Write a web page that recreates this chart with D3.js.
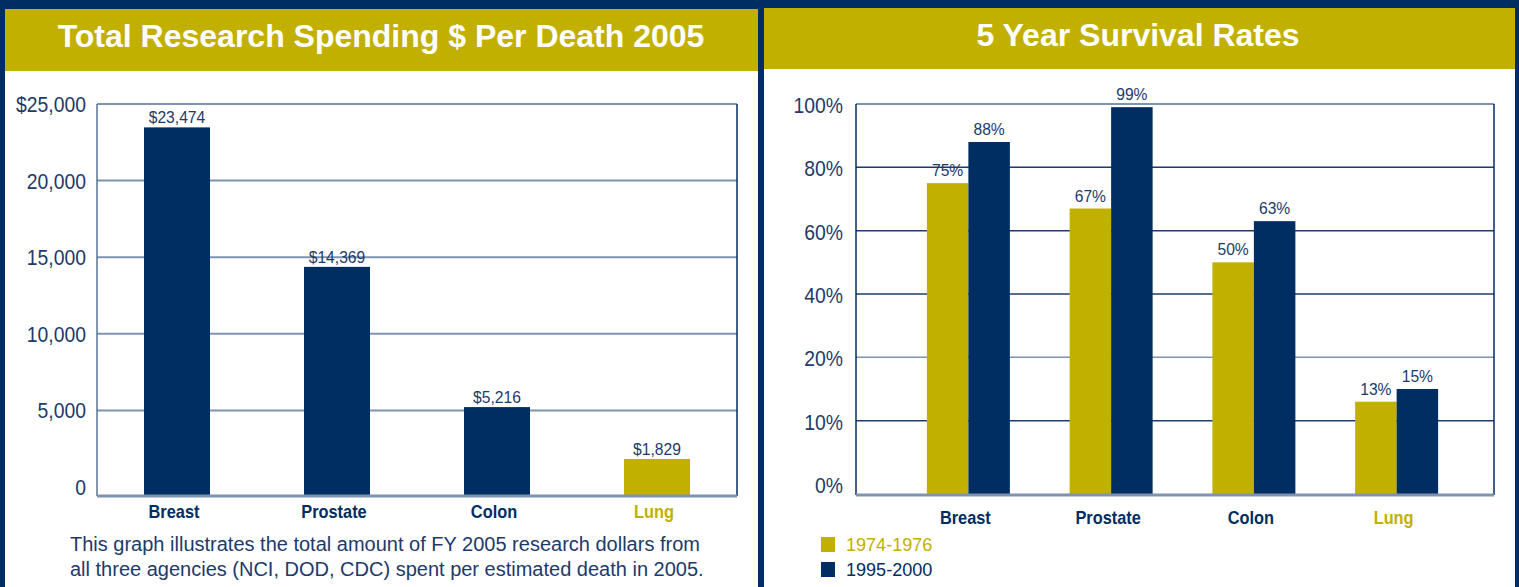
<!DOCTYPE html>
<html>
<head>
<meta charset="utf-8">
<script src="https://cdn.jsdelivr.net/npm/d3@7"></script>
<style>
  html, body { margin: 0; padding: 0; background: #002d62; }
  svg { display: block; }
  text { font-family: "Liberation Sans", Arial, sans-serif; }
</style>
</head>
<body>
<svg id="chart" width="1519" height="587"></svg>
<script>
// ---- data ----
const spendCategories = ["Breast", "Prostate", "Colon", "Lung"];
const spendValues = [23474, 14369, 5216, 1829];
const spendTicks = [0, 5000, 10000, 15000, 20000, 25000];

const survivalCategories = ["Breast", "Prostate", "Colon", "Lung"];
const survivalSeries = ["1974-1976", "1995-2000"];
const survival1974 = [75, 67, 50, 13];
const survival1995 = [88, 99, 63, 15];
const survivalTicks = [0, 10, 20, 40, 60, 80, 100];

const NAVY = "#002d62";
const GOLD = "#c2b000";
const TEXT = "#1d3a6a";
const GRID = "#7f93b0";

const svg = d3.select("#chart");

// no narrow face installed, so squeeze the measured text instead
function condense(sel, k) {
    sel.each(function() {
        const len = this.getComputedTextLength();
        d3.select(this).attr("textLength", len * k).attr("lengthAdjust", "spacingAndGlyphs");
    });
}

// background panels
function panel(x0, x1, headY0, headY1, title, titleX) {
    svg.append("rect").attr("x", x0).attr("y", headY1).attr("width", x1 - x0).attr("height", 587 - headY1).attr("fill", "#fff");
    svg.append("rect").attr("x", x0).attr("y", headY0).attr("width", x1 - x0).attr("height", headY1 - headY0).attr("fill", GOLD);
    svg.append("text")
        .attr("x", titleX).attr("y", headY0 + 38)
        .attr("text-anchor", "middle")
        .attr("fill", "#fff")
        .attr("font-weight", "bold")
        .attr("font-size", 32)
        .text(title);
}
panel(5, 758, 9, 71, "Total Research Spending $ Per Death 2005", 381);
panel(764, 1515, 8, 69, "5 Year Survival Rates", 1138);

// ---- left chart: spending per death ----
{
    const left = 97, right = 737, top = 104, bottom = 496;
    const y = d3.scaleLinear().domain([0, 25000]).range([487, top]);
    const x = d3.scaleBand().domain(spendCategories).range([left, right])
        .paddingInner(0.5875).paddingOuter(0.29375);
    const g = svg.append("g");

    g.selectAll("line.grid")
        .data(spendTicks.filter(d => d > 0))
        .join("line")
        .attr("x1", left).attr("x2", right)
        .attr("y1", d => y(d)).attr("y2", d => y(d))
        .attr("stroke", GRID).attr("stroke-width", 2);

    g.append("line").attr("x1", left).attr("x2", left).attr("y1", top).attr("y2", bottom)
        .attr("stroke", "#5a7396").attr("stroke-width", 1.5);
    g.append("line").attr("x1", right).attr("x2", right).attr("y1", top).attr("y2", bottom)
        .attr("stroke", NAVY).attr("stroke-width", 1.5);

    const fmt = d3.format(",");
    g.selectAll("text.tick")
        .data(spendTicks)
        .join("text")
        .attr("x", left - 11)
        .attr("y", d => y(d) + 8)
        .attr("text-anchor", "end")
        .attr("font-size", 22)
        .attr("fill", TEXT)
        .text(d => d === 25000 ? "$" + fmt(d) : fmt(d))
        .call(condense, 0.88);

    g.selectAll("rect.bar")
        .data(spendValues)
        .join("rect")
        .attr("x", (d, i) => x(spendCategories[i]))
        .attr("width", x.bandwidth())
        .attr("y", d => y(d))
        .attr("height", d => bottom - y(d))
        .attr("fill", (d, i) => spendCategories[i] === "Lung" ? GOLD : NAVY);

    g.selectAll("text.val")
        .data(spendValues)
        .join("text")
        .attr("x", (d, i) => x(spendCategories[i]) + x.bandwidth() / 2)
        .attr("y", d => y(d) - 4)
        .attr("text-anchor", "middle")
        .attr("font-size", 17)
        .attr("fill", TEXT)
        .text(d => "$" + fmt(d))
        .call(condense, 0.92);

    g.append("line").attr("x1", left).attr("x2", right).attr("y1", bottom).attr("y2", bottom)
        .attr("stroke", GRID).attr("stroke-width", 3);

    g.selectAll("text.cat")
        .data(spendCategories)
        .join("text")
        .attr("x", d => x(d) + x.bandwidth() / 2 - 3)
        .attr("y", 518)
        .attr("text-anchor", "middle")
        .attr("font-size", 19)
        .attr("font-weight", "bold")
        .attr("fill", d => d === "Lung" ? GOLD : NAVY)
        .text(d => d)
        .call(condense, 0.86);

    const caption = ["This graph illustrates the total amount of FY 2005 research dollars from",
                     "all three agencies (NCI, DOD, CDC) spent per estimated death in 2005."];
    g.selectAll("text.cap")
        .data(caption)
        .join("text")
        .attr("x", 70)
        .attr("y", (d, i) => 551 + i * 25)
        .attr("font-size", 20)
        .attr("fill", TEXT)
        .text(d => d);
}

// ---- right chart: survival rates ----
{
    const left = 856, right = 1494, top = 104, bottom = 495;
    const step = (484 - top) / (survivalTicks.length - 1);
    const y = d3.scaleLinear().domain(survivalTicks)
        .range(survivalTicks.map((d, i) => 484 - i * step));
    const x = d3.scaleBand().domain(survivalCategories).range([897, 1468])
        .paddingInner(0.4186).paddingOuter(0.2093);
    const xs = d3.scaleBand().domain(survivalSeries).range([0, x.bandwidth()]);
    const g = svg.append("g");

    g.selectAll("line.grid")
        .data(survivalTicks.filter(d => d > 0))
        .join("line")
        .attr("x1", left).attr("x2", right)
        .attr("y1", d => y(d)).attr("y2", d => y(d))
        .attr("stroke", d => d === 100 || d === 20 ? GRID : "#1c3d6c")
        .attr("stroke-width", d => d === 100 ? 2 : 1.5);

    g.append("line").attr("x1", left).attr("x2", left).attr("y1", top).attr("y2", bottom)
        .attr("stroke", NAVY).attr("stroke-width", 1.5);
    g.append("line").attr("x1", right).attr("x2", right).attr("y1", top).attr("y2", bottom)
        .attr("stroke", NAVY).attr("stroke-width", 1.5);

    g.selectAll("text.tick")
        .data(survivalTicks)
        .join("text")
        .attr("x", left - 13)
        .attr("y", d => y(d) + 9)
        .attr("text-anchor", "end")
        .attr("font-size", 22)
        .attr("fill", TEXT)
        .text(d => d + "%")
        .call(condense, 0.88);

    const rows = survivalCategories.flatMap((c, i) => [
        { cat: c, series: survivalSeries[0], value: survival1974[i] },
        { cat: c, series: survivalSeries[1], value: survival1995[i] },
    ]);

    g.selectAll("rect.bar")
        .data(rows)
        .join("rect")
        .attr("x", d => x(d.cat) + xs(d.series))
        .attr("width", xs.bandwidth())
        .attr("y", d => y(d.value))
        .attr("height", d => bottom - y(d.value))
        .attr("fill", d => d.series === survivalSeries[0] ? GOLD : NAVY);

    g.selectAll("text.val")
        .data(rows)
        .join("text")
        .attr("x", d => x(d.cat) + xs(d.series) + xs.bandwidth() / 2)
        .attr("y", d => y(d.value) - 7)
        .attr("text-anchor", "middle")
        .attr("font-size", 17)
        .attr("fill", TEXT)
        .text(d => d.value + "%")
        .call(condense, 0.92);

    g.append("line").attr("x1", left).attr("x2", right).attr("y1", bottom).attr("y2", bottom)
        .attr("stroke", GRID).attr("stroke-width", 3);

    g.selectAll("text.cat")
        .data(survivalCategories)
        .join("text")
        .attr("x", d => x(d) + x.bandwidth() / 2 - 3)
        .attr("y", 524)
        .attr("text-anchor", "middle")
        .attr("font-size", 19)
        .attr("font-weight", "bold")
        .attr("fill", d => d === "Lung" ? GOLD : NAVY)
        .text(d => d)
        .call(condense, 0.86);

    const legend = g.selectAll("g.legend")
        .data(survivalSeries)
        .join("g")
        .attr("transform", (d, i) => `translate(821,${537 + i * 25})`);
    legend.append("rect")
        .attr("width", 14).attr("height", 15)
        .attr("fill", (d, i) => i === 0 ? GOLD : NAVY);
    legend.append("text")
        .attr("x", 25).attr("y", 14)
        .attr("font-size", 19)
        .attr("fill", (d, i) => i === 0 ? GOLD : NAVY)
        .text(d => d)
        .call(condense, 0.95);
}
</script>
</body>
</html>
